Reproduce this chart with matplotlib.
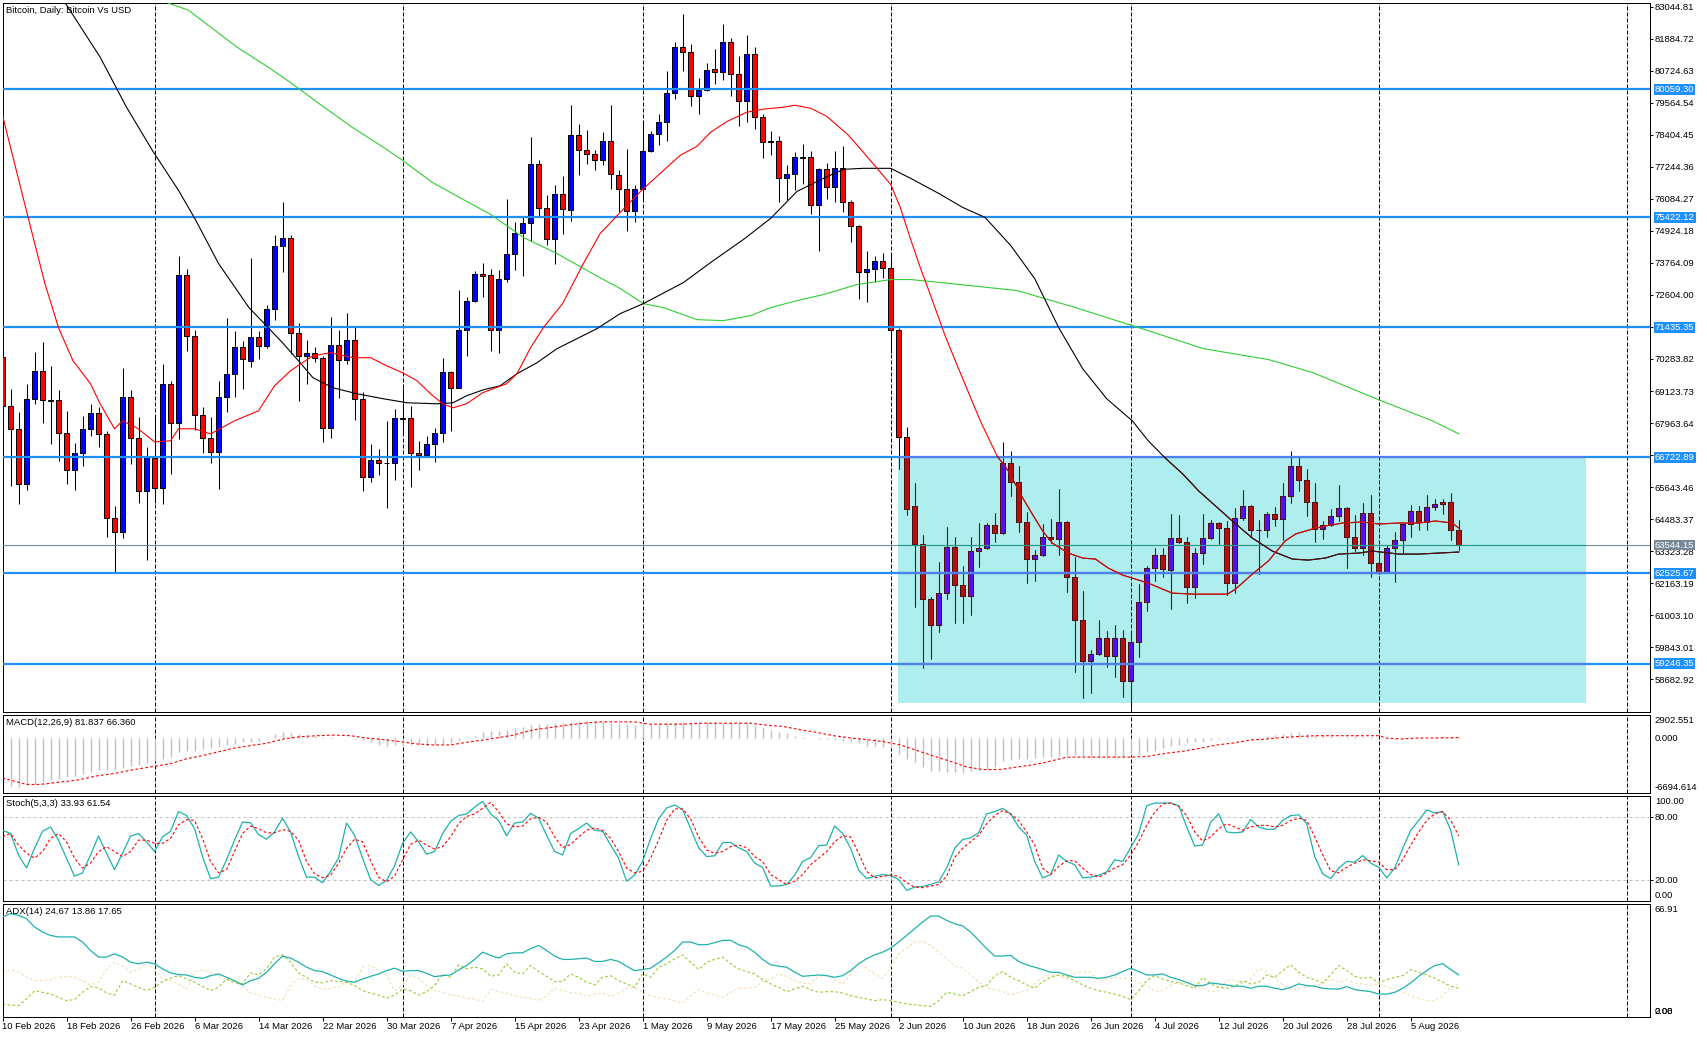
import matplotlib
matplotlib.use("Agg")
import matplotlib.pyplot as plt
import numpy as np
from matplotlib.patches import Rectangle

plt.rcParams['font.family'] = ['Liberation Sans', 'DejaVu Sans']

# ---------------- data ----------------
opens = [70370,68590,67740,65750,68830,69860,68790,68790,67600,66250,
66870,67740,68320,67560,64510,64000,68920,67420,65500,66690,
65620,69380,67980,73310,71110,68250,67420,66930,68920,69740,
70730,70200,71080,70740,72100,74380,74680,71230,70380,70500,
70320,67800,70800,70250,70970,68830,66010,66620,66530,66530,
68140,68140,66890,66800,67220,67600,69820,69250,71350,72400,
73370,73310,71340,73190,74090,74860,75220,77360,75760,74640,
76270,75690,78410,77870,77720,77480,78200,76940,76430,75640,
76430,77830,78420,78880,79910,81600,81390,79830,80030,80780,
80700,81770,80620,79630,81340,79060,78170,78170,76840,76970,
77600,77600,75850,77150,76510,77190,75970,75120,73420,73550,
73830,73590,71340,67460,64960,63570,61600,60650,61820,63460,
62110,61700,63320,63430,64270,63980,66500,65810,64380,63030,
63170,63830,63760,64380,62370,60830,59330,59590,60170,59510,
60170,58600,60030,61490,62700,63170,62650,63790,63650,62040,
63250,63790,64340,64160,62150,64530,64960,64090,64090,64670,
64490,65330,66390,65910,65110,64120,64270,64600,64890,63830,
63430,64710,62880,62570,63430,63730,64310,64790,64380,64930,
65110,65110,64090]
highs = [70590,69190,68350,69380,70520,70910,70040,69170,68410,67250,
68230,68670,68550,67680,64960,69940,69170,68200,67110,68200,
70090,69500,74030,73560,71350,68530,68170,69470,71760,71310,
70920,73940,71280,72240,74760,75970,74780,71590,70970,70710,
70400,71800,71350,71950,71490,69100,67200,67020,68040,68470,
69250,68590,67320,67500,67800,70320,69860,72800,72520,73470,
73770,73550,73510,76070,75240,75470,78330,77510,76240,76570,
76900,79480,78810,78570,77870,78510,79480,77120,77890,76580,
78880,78550,79170,80730,81770,82790,81690,80450,81010,81510,
82430,81920,81260,82010,81600,79170,78560,78380,77330,77780,
78070,77810,77200,77370,77830,77990,76050,75150,74200,74000,
74110,74050,71400,67810,65780,63920,61660,62920,64200,63830,
62780,63830,64340,64340,64710,67270,66940,66390,64740,63370,
64320,64490,65560,64430,63120,61870,59730,60840,60420,60660,
60480,60440,62120,62790,63430,63430,64650,64630,63830,63430,
64650,64460,64370,64400,64890,65520,65010,64460,64730,64930,
65780,66940,66720,66290,65780,64400,64850,65710,64930,64630,
65070,65340,63250,63550,64010,64340,64980,64950,65340,65200,
65220,65420,64460]
lows = [68290,65680,65020,65530,68650,67980,67220,66570,65770,65550,
66400,67480,67110,63850,62540,63810,66470,65080,62990,65060,
65020,66110,67380,70590,67720,66890,66500,65590,68350,68920,
69190,69980,70280,70670,71700,73430,70460,68750,69380,70160,
67290,67420,68870,70100,68070,65490,65810,66070,64900,65890,
67560,65660,66250,66750,66560,67290,67680,69230,70400,72360,
72520,70590,70490,73070,73510,73280,74550,75430,74400,73730,
74820,75300,76960,77360,77120,77310,76430,75610,74930,75260,
76050,77780,78020,78190,79700,80730,79450,79170,79990,80240,
80400,79830,78710,78880,78600,77560,77660,75970,76050,76410,
76630,75530,74210,76080,75970,75610,74540,72440,72360,73090,
73230,70500,66310,64630,61290,59080,59430,60380,61600,60710,
60710,61010,62760,63390,63640,63950,65320,64000,62170,62250,
63150,63610,63200,61840,58950,58000,58190,59550,59140,58770,
58040,57640,59470,61150,62250,62390,61220,63610,61450,61620,
62850,63770,63590,61750,61820,64440,63830,62480,63830,64240,
63710,65070,65500,64590,63670,63760,64240,64400,62700,63310,
63180,62390,62490,62560,62210,63250,63820,64070,64100,64810,
64650,63730,63370]
closes = [68590,67740,65750,68830,69860,68790,68770,67600,66250,66870,
67740,68320,67560,64510,64000,68920,67420,65500,66770,65620,
69380,67980,73310,71110,68250,67420,66930,68920,69740,70730,
70270,71080,70740,72100,74380,74680,71230,70400,70500,70320,
67800,70800,70250,70970,68830,66010,66620,66500,66510,68140,
68120,66890,66800,67220,67600,69820,69250,71350,72400,73370,
73300,71340,73190,74090,74860,75220,77360,75760,74640,76270,
75730,78410,77870,77720,77480,78200,76970,76450,75640,76430,
77830,78420,78880,79910,81600,81390,79830,80030,80770,80700,
81770,80620,79630,81340,79060,78140,78150,76840,76970,77600,
77580,75850,77150,76510,77190,75970,75120,73420,73550,73830,
73590,71340,67460,64850,63570,61600,60650,61820,63460,62110,
61700,63320,63430,64270,63980,66500,65810,64380,63030,63170,
63830,63760,64380,62370,60830,59330,59590,60170,59510,60170,
58600,60030,61490,62700,63170,62680,63790,63650,62040,63250,
63790,64340,64160,62150,64530,64960,64090,64070,64670,64490,
65330,66390,65910,65110,64120,64270,64600,64890,63830,63430,
64710,62880,62570,63430,63730,64310,64790,64380,64930,65040,
65040,64090,63544.15]

date_labels = ['10 Feb 2026','18 Feb 2026','26 Feb 2026','6 Mar 2026','14 Mar 2026',
               '22 Mar 2026','30 Mar 2026','7 Apr 2026','15 Apr 2026','23 Apr 2026',
               '1 May 2026','9 May 2026','17 May 2026','25 May 2026','2 Jun 2026',
               '10 Jun 2026','18 Jun 2026','26 Jun 2026','4 Jul 2026','12 Jul 2026',
               '20 Jul 2026','28 Jul 2026','5 Aug 2026']
date_tick_idx = list(range(0, 177, 8))
month_grid_idx = [19, 50, 80, 111, 141, 172, 203]

price_ticks = [83044.81,81884.72,80724.63,79564.54,78404.45,77244.36,76084.27,74924.18,
               73764.09,72604.00,71443.91,70283.82,69123.73,67963.64,66803.55,65643.46,
               64483.37,63323.28,62163.19,61003.10,59843.01,58682.92]
levels = [80059.30, 75422.12, 71435.35, 66722.89, 62525.67, 59246.35]
last_price = 63544.15
zone_x = [111.96, 197.96]
zone_y = [57820, 66780]

red_ma_idx = [0,3.2,5.3,7,8.8,11,12.2,14,15,16.8,19,21,22,24,26,29,32,34,36,38.8,41,43.8,46,48,50,
              51.8,53.5,55,56.3,58,60,63,64.3,66,67.6,70,72.6,74.7,77.2,80,82.2,84.7,86.8,88.5,90.6,
              93,95,97.6,99,101,103,105.6,107.6,109.3,111,112.2,113.5,114.7,116,117.8,119.7,122.2,
              124.3,125.7,127.5,128.7,130,131.2,133.2,135,136.6,138.2,140,141.6,143.2,145,146.2,149,
              153.1,154.1,156.2,158.2,160.3,161.6,163.7,165.3,167.5,170,172,174.5,177,179.1,181.2,182]
red_ma_val = [79115,75413,73017,71420,70222,69387,68661,67754,68044,67790,67282,67318,67754,67754,
              67572,68044,68407,69314,69859,70403,70512,70331,70331,70040,69786,69496,69024,68661,
              68516,68661,69060,69387,69750,70694,71420,72291,73743,74832,75594,76429,77010,77663,
              77990,78498,78898,79224,79333,79406,79478,79370,79079,78426,77772,77192,76611,75776,
              74614,73598,72581,71129,69786,68044,66773,66229,65249,64668,64051,63615,63252,63071,
              63035,62708,62454,62309,62163,61946,61800,61764,61764,61946,62490,62962,63688,63942,
              64124,64232,64341,64378,64305,64341,64341,64414,64341,64160]
black_ma_idx = [5,7.6,12.2,15.5,18.8,22,24.1,27,30.8,33.2,35.1,37.2,38.8,41.3,44.3,47.6,50.6,54.3,
                56.3,58,60.1,62.2,64.3,66.8,69.3,71.8,74.3,77.2,80.1,85.1,88.5,92.6,96,99.3,102.6,
                105.1,107.6,111,113.5,117,120,122.8,126,129,132,135,138,141.2,143.2,145.3,147.5,
                149.5,151.6,153.7,156.2,158.7,161.2,163.2,165.3,167,169.5,171.2,174.5,177,179.5,182]
black_ma_val = [84460,83290,81221,79406,77809,76393,75340,73743,72146,71420,70839,70149,69605,69242,
                69024,68843,68697,68661,68697,68952,69169,69314,69750,70149,70658,71021,71384,71928,
                72291,73053,73779,74614,75377,76357,76829,77155,77192,77192,76829,76284,75776,75413,
                74397,73199,71420,69932,68843,68044,67318,66701,66120,65503,64959,64414,63797,63325,
                63035,62998,63071,63216,63252,63325,63216,63216,63252,63289]
green_ma_idx = [17,20.7,23.2,26.5,29.3,33.2,36.1,39.5,43.7,47.6,50,53.7,57.1,61,65.1,69.3,73.5,77.2,
                80.1,82.6,86.8,90.1,93.5,96,99.3,102.6,106.8,111,113.5,117.3,126.8,133.7,142,150.1,
                158.3,163.8,172,178.7,182]
green_ma_val = [83600,83181,82927,82201,81584,80858,80277,79551,78680,77954,77482,76683,76139,75522,
                74687,74106,73416,72836,72291,72146,71710,71674,71856,72146,72400,72618,72981,73162,
                73162,73053,72763,72182,71420,70658,70258,69786,68806,68044,67572]

macd_main = [-5905,-5905,-5986,-5783,-5662,-5459,-5176,-4973,-4811,-4649,-4447,-4163,-3961,-3961,
             -3880,-3677,-3434,-3272,-3029,-2867,-2543,-2341,-1652,-1531,-1531,-1328,-1247,-1125,
             -842,-720,-518,-437,-316,-113,495,697,576,495,373,292,90,90,8,8,-113,-235,-518,-842,
             -923,-842,-802,-842,-842,-923,-842,-720,-599,-316,90,292,697,900,900,1021,1183,
             1426,1588,1710,1791,1831,1912,1993,2034,2115,2115,2034,1912,1831,1710,1588,1831,1710,
             1912,1912,1912,1993,1993,1912,1993,1912,1912,1912,1831,1831,1588,1305,1021,778,576,
             292,171,8,-113,-113,-235,-316,-437,-640,-923,-923,-1125,-1247,-1936,-2543,-2948,
             -3556,-4082,-4082,-4163,-4163,-4285,-4082,-3961,-3758,-3556,-2867,-2746,-2624,
             -2543,-2462,-2341,-2341,-2219,-2138,-2138,-2219,-2341,-2341,-2341,-2341,-2341,-2138,
             -2057,-1733,-1531,-1247,-1004,-842,-599,-518,-437,-235,-113,-113,8,8,171,171,211,373,
             495,576,697,495,373,373,292,171,171,211,171,171,8,-113,-154,-113,-113,8,8,90,211,90,
             81.837]
macd_sig_idx = [0,1,3,4.7,6.8,9.3,11.8,13.9,16.4,19,21,23,24.7,26.8,28.9,31,33,35.1,37.2,39.3,41.4,
                43.5,45.5,47.6,49.7,51.8,53.9,56,58,60.1,62.2,63.9,
                64.3,66.4,68.5,70.5,72.6,74.7,76.8,78.9,81,83,85.1,87.2,89.3,91.4,93.5,95.5,97.6,
                99.7,101.8,103.9,106,108,110.1,112.2,114.3,116.4,118.5,120.5,122.6,124.7,
                126.8,128.9,130.5,133,137.2,141.4,143,145.5,147.6,149.7,151.8,153.9,156,158,160.1,
                162.2,164.3,166.4,168.5,170.5,172,173,174.7,176.8,178.9,182]
macd_sig_val = [-4892,-5176,-5702,-5702,-5459,-5176,-4649,-4366,-3880,-3475,-3151,-2543,-2219,-1733,
                -1247,-923,-640,-113,171,292,373,292,8,-194,-437,-720,-842,-842,-518,-235,90,373,
                495,1021,1305,1588,1831,1993,1993,1993,1710,1710,1710,1831,1831,1831,1831,1588,1426,
                1021,697,292,8,-194,-437,-842,-1531,-2219,-2867,-3556,-3880,-3860,
                -3556,-3272,-2948,-2341,-2341,-2341,-2260,-1855,-1612,-1247,-842,-599,-235,-113,90,
                211,292,292,292,292,292,8,-113,8,8,66.36]

stoch_main = [66.9,63.8,43.4,30.9,49.7,65.9,70.0,57.5,40.3,23.1,26.3,43.4,61.3,45.0,29.4,45.0,61.3,
              63.8,55.9,46.6,60.6,65.9,84.7,80.9,68.4,41.9,20.9,22.2,38.8,57.5,74.7,74.1,62.8,58.4,
              65.3,78.4,65.3,41.9,22.2,22.2,16.9,27.8,40.3,73.8,62.2,40.3,20.0,14.4,19.1,33.1,54.4,
              65.3,55.9,44.1,46.6,63.8,75.3,80.9,82.5,88.8,94.4,82.5,76.3,61.6,73.8,
              74.7,83.1,78.4,62.2,46.6,43.4,63.8,68.4,73.8,66.9,65.9,52.8,40.3,18.4,24.1,37.2,59.1,
              77.8,88.1,90.9,86.6,68.4,50.3,41.9,42.5,55.0,55.3,50.3,46.6,35.6,31.6,13.8,13.8,15.3,
              24.1,37.2,40.9,52.2,52.8,70.9,63.8,49.7,28.8,20.9,23.1,24.7,23.8,20.0,9.7,12.8,13.4,
              15.3,17.8,30.9,49.7,58.1,59.7,64.4,82.5,84.7,87.8,82.5,70.0,
              62.2,37.2,21.6,24.7,43.4,37.2,34.1,21.6,22.2,24.1,27.2,38.8,37.2,50.3,63.8,90.3,92.8,
              92.8,92.8,90.3,70.0,51.9,52.8,74.7,82.5,65.3,64.4,65.3,77.2,70.0,67.8,67.8,76.3,80.9,
              81.6,73.1,41.9,25.3,20.9,30.9,37.2,36.6,42.8,35.6,31.6,21.6,30.9,49.7,66.9,76.3,86.3,
              83.4,84.7,66.9,33.93]
stoch_signal = [60.6,63.8,52.8,45.0,40.3,46.6,59.1,63.8,55.9,40.3,30.9,35.6,46.6,51.3,46.6,41.9,46.6,
                57.5,57.5,54.4,54.4,59.1,72.2,76.9,76.3,59.1,37.2,26.3,29.4,46.6,63.8,70.9,68.4,64.4,
                64.4,67.5,65.9,57.5,37.2,25.6,21.6,24.1,35.6,49.7,58.4,55.9,37.8,22.2,17.8,23.1,38.8,
                53.4,57.5,52.8,49.1,51.3,60.6,73.1,80.0,82.5,87.8,93.4,84.7,73.1,70.0,
                70.9,77.8,79.4,74.7,60.6,50.3,53.4,60.6,66.9,69.1,66.9,59.1,46.6,30.9,26.3,27.8,40.3,
                57.5,76.3,87.2,87.2,77.8,60.6,48.1,45.0,46.6,51.3,52.8,50.3,41.9,37.2,24.7,20.0,15.3,
                18.4,24.7,34.1,40.3,46.6,55.9,61.6,60.6,45.0,27.8,21.6,23.1,24.1,23.1,16.9,12.8,12.2,
                13.8,15.3,23.1,40.9,49.7,55.9,62.2,73.1,80.9,85.6,82.5,76.0,
                65.3,52.8,30.9,24.7,32.5,37.8,37.8,30.9,24.7,22.2,26.3,30.9,34.1,43.4,55.9,71.6,84.1,
                91.9,92.8,89.7,80.9,65.3,56.6,60.6,68.4,73.1,70.0,66.9,70.0,71.6,71.6,70.0,71.6,76.3,
                78.4,76.3,60.6,43.4,28.4,26.3,31.6,35.6,38.8,37.8,36.6,29.4,29.4,38.8,52.8,65.3,76.3,
                82.5,84.7,76.3,61.54]

adx_main = [58.9,60.9,59.9,57.9,53.0,50.0,48.0,47.1,47.1,47.1,44.1,39.1,35.2,35.2,37.1,35.2,32.2,31.2,
            32.2,31.2,28.2,25.8,24.8,24.6,23.2,22.6,24.2,25.2,23.2,21.2,18.7,21.2,22.6,26.2,31.2,35.8,
            34.6,32.2,29.2,27.2,26.6,24.6,22.6,20.9,20.3,22.2,23.8,25.2,27.2,28.6,26.8,27.2,27.2,25.6,
            23.6,24.2,24.6,27.6,30.2,33.8,38.1,36.2,34.6,37.1,37.7,
            37.7,40.1,42.1,39.1,35.8,33.8,33.8,34.2,34.6,32.6,32.6,33.8,32.6,29.8,27.2,27.8,28.6,31.8,
            35.2,39.1,44.1,44.1,42.5,42.5,43.7,45.1,45.1,42.5,41.1,38.1,33.8,30.6,29.8,29.2,26.2,23.8,
            24.2,24.6,24.2,23.2,24.2,27.2,31.2,34.2,36.5,38.1,40.5,44.1,48.0,52.0,55.9,59.5,59.5,56.9,
            54.9,53.6,50.0,45.1,40.1,35.8,35.8,36.2,32.6,
            30.6,29.2,27.8,26.2,26.2,24.6,23.2,23.2,23.2,22.6,23.2,24.6,26.6,28.6,26.6,24.6,24.6,25.2,
            23.2,21.8,20.3,18.3,18.3,19.9,19.3,18.7,17.9,17.9,16.7,17.9,17.9,16.7,15.9,17.3,19.3,18.3,
            17.9,16.7,16.3,16.3,17.7,15.9,15.3,14.7,13.3,13.3,14.3,16.7,19.9,23.8,27.2,30.2,31.2,27.8,
            24.67]
adx_plus_di = [7.4,6.8,6.4,10.4,15.3,14.3,13.3,11.3,9.4,10.0,14.3,17.7,16.9,13.9,12.7,21.2,19.3,17.3,
               15.3,17.3,20.7,22.6,24.2,22.2,20.3,17.9,15.3,17.3,22.2,19.9,19.3,25.8,24.6,28.2,35.2,
               36.5,32.2,25.8,23.2,20.3,19.9,21.2,20.7,20.3,18.3,15.3,13.9,12.7,10.8,12.7,16.3,15.3,
               12.7,14.7,18.3,25.2,23.2,30.6,28.2,29.2,28.2,23.8,24.6,31.2,26.2,
               25.2,30.2,26.6,23.8,20.7,20.7,25.2,23.2,20.3,18.7,23.2,24.2,21.2,19.3,17.3,25.2,23.2,
               29.2,31.2,34.2,36.5,32.2,27.8,32.2,33.8,35.2,31.2,28.2,26.6,25.2,21.8,19.3,17.3,14.7,
               16.3,17.9,15.9,14.3,14.7,14.7,13.9,12.3,11.3,10.4,9.4,10.0,9.4,8.4,7.4,7.0,6.4,6.0,9.4,
               14.3,13.3,12.3,14.7,17.3,18.3,24.2,26.6,23.2,21.2,
               18.7,16.7,20.7,23.2,24.6,23.8,21.2,18.7,16.7,15.3,14.3,13.3,11.9,10.0,15.3,21.2,24.2,
               22.2,20.7,19.9,18.3,16.7,23.2,19.3,17.3,16.7,17.9,21.2,19.3,20.3,24.6,23.2,27.2,30.6,
               26.2,23.2,21.8,19.9,24.6,30.2,27.2,23.8,22.6,23.2,19.9,21.8,23.2,24.2,27.8,26.2,24.6,
               22.6,20.3,17.9,16.7]
adx_minus_di = [26.2,27.6,26.2,23.2,21.2,21.2,21.8,23.2,23.8,23.2,21.2,18.7,20.3,27.8,32.2,29.8,26.2,
                28.2,31.8,28.2,22.2,21.2,19.3,15.9,26.2,27.8,26.2,23.8,21.8,20.7,17.9,13.9,12.7,11.3,
                10.4,9.4,18.3,22.6,21.8,18.3,15.9,16.7,17.3,20.7,20.3,29.2,30.2,27.2,24.6,15.3,18.3,
                24.6,22.6,18.3,15.3,14.3,12.7,12.3,10.8,10.4,9.0,15.9,14.7,13.9,12.3,
                11.3,10.8,9.4,12.3,16.7,15.3,13.9,13.9,11.9,13.3,13.9,11.9,13.9,16.7,17.3,14.3,12.3,
                11.3,10.4,9.4,8.0,12.3,15.9,13.9,12.7,11.3,14.3,16.7,16.7,17.3,20.7,22.2,25.2,23.8,
                21.2,19.9,19.3,23.8,24.2,21.8,19.3,24.6,32.6,28.2,25.2,22.6,29.2,37.1,40.5,44.1,44.5,
                42.1,38.1,34.2,29.8,28.6,24.6,20.3,17.3,15.9,14.7,12.7,14.3,
                15.3,19.3,23.2,24.6,24.2,22.2,25.2,26.6,26.2,21.2,22.2,23.2,22.6,22.2,20.3,18.3,14.7,
                15.3,18.7,20.3,19.3,17.9,16.7,14.7,15.3,21.2,21.8,19.3,22.2,28.2,26.6,22.6,18.7,15.9,
                16.3,17.3,18.3,19.3,22.2,20.3,21.8,19.9,19.3,18.3,19.3,17.3,16.3,14.3,12.3,10.8,9.4,
                9.4,12.3,17.3,19.3]

title_text = 'Bitcoin, Daily: Bitcoin Vs USD'
macd_text = 'MACD(12,26,9) 81.837 66.360'
stoch_text = 'Stoch(5,3,3) 33.93 61.54'
adx_text = 'ADX(14) 24.67 13.86 17.65'
macd_range = (-6694.614, 2902.551)
adx_top = 66.91

# ---------------- layout ----------------
W, H = 1707, 1037
fig = plt.figure(figsize=(W / 100, H / 100), dpi=100)
fig.patch.set_facecolor('white')
LEFT, RIGHT = 2.5, 1649.5


def box(top, bottom):
    return [LEFT / W, 1 - bottom / H, (RIGHT - LEFT) / W, (bottom - top) / H]


ax = fig.add_axes(box(2.5, 711.5))
ax_m = fig.add_axes(box(714.5, 792.5), sharex=ax)
ax_s = fig.add_axes(box(795.5, 900.5), sharex=ax)
ax_a = fig.add_axes(box(903.5, 1016.5), sharex=ax)
axes = [ax, ax_m, ax_s, ax_a]

FS = 6.8
for a in axes:
    a.set_facecolor('white')
    for sp in a.spines.values():
        sp.set_linewidth(0.72)
        sp.set_color('black')
    a.tick_params(axis='x', which='both', bottom=False, top=False, labelbottom=False)
    a.tick_params(axis='y', which='both', left=False, right=False, labelleft=False, labelright=False)
    for gi in month_grid_idx:
        a.axvline(gi, color='black', lw=0.72, ls=(0, (4, 2)), zorder=1)

# ---------------- main pane ----------------
x = np.arange(len(opens))
o = np.array(opens, float); h = np.array(highs, float)
l = np.array(lows, float); c = np.array(closes, float)
up = c >= o
blo = np.minimum(o, c)
bh = np.abs(c - o)

zone = Rectangle((zone_x[0], zone_y[0]), zone_x[1] - zone_x[0], zone_y[1] - zone_y[0],
                 facecolor='#AFEEEE', edgecolor='none', zorder=0.5)
ax.add_patch(zone)


def candles(bull, bear, edge, clip=None):
    wk = ax.vlines(x, l, h, colors=edge, lw=0.75, zorder=3)
    bars = ax.bar(x, bh, bottom=blo, width=0.58,
                  color=[bull if u else bear for u in up],
                  edgecolor=edge, linewidth=0.7, zorder=3.2)
    if clip is not None:
        wk.set_clip_path(clip)
        for p in bars.patches:
            p.set_clip_path(clip)


candles('#0000FF', '#FF0000', 'black')
candles('#5011EE', '#AF1111', '#501111', clip=zone)

for lv in levels:
    ax.axhline(lv, color='#1E90FF', lw=1.6, zorder=5)
    ln = ax.axhline(lv, color='#4E81EE', lw=1.6, zorder=5.1)
    ln.set_clip_path(zone)
ax.axhline(last_price, color='#778899', lw=0.8, zorder=5)
pl = ax.axhline(last_price, color='#279988', lw=0.8, zorder=5.1)
pl.set_clip_path(zone)

ax.plot(green_ma_idx, green_ma_val, color='#32CD32', lw=0.8, zorder=6)
ax.plot(black_ma_idx, black_ma_val, color='black', lw=0.8, zorder=6)
ax.plot(red_ma_idx, red_ma_val, color='#FF0000', lw=0.8, zorder=6)
b2, = ax.plot(black_ma_idx, black_ma_val, color='#501111', lw=0.8, zorder=6.1)
b2.set_clip_path(zone)
r2, = ax.plot(red_ma_idx, red_ma_val, color='#AF1111', lw=0.8, zorder=6.1)
r2.set_clip_path(zone)

ax.set_xlim(0, 205.84)
ax.set_ylim(57512, 83200)
ax.yaxis.tick_right()
ax.set_yticks(price_ticks)
ax.set_yticklabels(['%.2f' % t for t in price_ticks])
ax.tick_params(axis='y', right=True, labelright=True, direction='out', length=2.5,
               width=0.7, pad=1.3, labelsize=FS)

for lv in levels:
    ax.annotate('%.2f' % lv, xy=(1, lv), xycoords=('axes fraction', 'data'),
                xytext=(3.9, 0), textcoords='offset points', va='center', ha='left',
                color='white', fontsize=FS, annotation_clip=False, zorder=20,
                bbox=dict(boxstyle='square,pad=0.1', fc='#1E90FF', ec='none'))
ax.annotate('%.2f' % last_price, xy=(1, last_price), xycoords=('axes fraction', 'data'),
            xytext=(3.9, 0), textcoords='offset points', va='center', ha='left',
            color='white', fontsize=FS, annotation_clip=False, zorder=20,
            bbox=dict(boxstyle='square,pad=0.1', fc='#778899', ec='none'))

ax.annotate(title_text, xy=(0, 1), xycoords='axes fraction', xytext=(2.5, -2.3),
            textcoords='offset points', va='top', ha='left', fontsize=FS, zorder=20)

# ---------------- MACD ----------------
ax_m.vlines(np.arange(len(macd_main)), 0, macd_main, colors='#C0C0C0', lw=1.0, zorder=2)
ax_m.plot(macd_sig_idx, macd_sig_val, color='#FF0000', lw=0.8, ls=(0, (2.5, 2)), zorder=3)
ax_m.set_ylim(*macd_range)
ax_m.annotate(macd_text, xy=(0, 1), xycoords='axes fraction', xytext=(2.5, -2.3),
              textcoords='offset points', va='top', ha='left', fontsize=FS)


def rlabel(a, val, txt, va, dy=0):
    a.annotate(txt, xy=(1, val), xycoords=('axes fraction', 'data'), xytext=(3.9, dy),
               textcoords='offset points', va=va, ha='left', fontsize=FS,
               annotation_clip=False)


rlabel(ax_m, macd_range[1], '%.3f' % macd_range[1], 'top', -1.0)
rlabel(ax_m, 0, '0.000', 'center')
rlabel(ax_m, macd_range[0], '%.3f' % macd_range[0], 'bottom', 0.5)

# ---------------- Stochastic ----------------
ax_s.axhline(80, color='#C0C0C0', lw=0.72, ls=(0, (3, 3)), zorder=1)
ax_s.axhline(20, color='#C0C0C0', lw=0.72, ls=(0, (3, 3)), zorder=1)
ax_s.plot(np.arange(len(stoch_main)), stoch_main, color='#20B2AA', lw=0.9, zorder=3)
ax_s.plot(np.arange(len(stoch_signal)), stoch_signal, color='#FF0000', lw=0.8,
          ls=(0, (2.5, 2)), zorder=3)
ax_s.set_ylim(0, 100)
ax_s.yaxis.tick_right()
ax_s.set_yticks([20, 80])
ax_s.set_yticklabels(['20.00', '80.00'])
ax_s.tick_params(axis='y', right=True, labelright=True, direction='out', length=2.5,
                 width=0.7, pad=1.3, labelsize=FS)
rlabel(ax_s, 100, '100.00', 'top', -1.0)
rlabel(ax_s, 0, '0.00', 'bottom', 0.3)
ax_s.annotate(stoch_text, xy=(0, 1), xycoords='axes fraction', xytext=(2.5, -2.3),
              textcoords='offset points', va='top', ha='left', fontsize=FS)

# ---------------- ADX ----------------
ax_a.plot(np.arange(len(adx_minus_di)), adx_minus_di, color='#F5DEB3', lw=0.8,
          ls=(0, (2.5, 2)), zorder=2)
ax_a.plot(np.arange(len(adx_plus_di)), adx_plus_di, color='#9ACD32', lw=0.8,
          ls=(0, (2.5, 2)), zorder=2.1)
ax_a.plot(np.arange(len(adx_main)), adx_main, color='#20B2AA', lw=0.9, zorder=3)
ax_a.set_ylim(0, adx_top)
rlabel(ax_a, adx_top, '%.2f' % adx_top, 'top', -1.0)
rlabel(ax_a, 0, '0.00', 'bottom', 0.3)
rlabel(ax_a, 0, '2.08', 'bottom', 0.3)
ax_a.annotate(adx_text, xy=(0, 1), xycoords='axes fraction', xytext=(2.5, -2.3),
              textcoords='offset points', va='top', ha='left', fontsize=FS)

ax_a.set_xticks(date_tick_idx)
ax_a.set_xticklabels(date_labels)
ax_a.tick_params(axis='x', bottom=True, labelbottom=True, direction='out', length=2.9,
                 width=0.7, pad=0.8, labelsize=FS)
for lb in ax_a.get_xticklabels():
    lb.set_horizontalalignment('left')

ax.set_xlim(0, 205.84)
fig.savefig('out.png', dpi=100, facecolor='white')
